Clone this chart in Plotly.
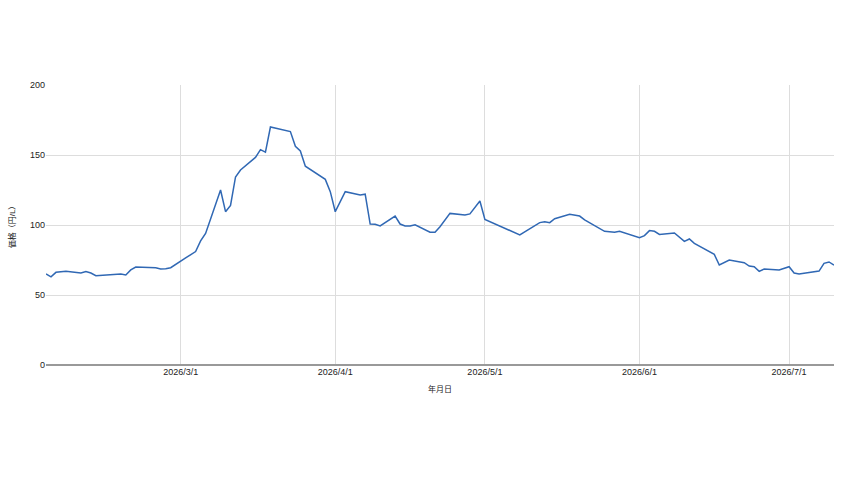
import plotly.graph_objects as go

dates = [
    "2026-02-02", "2026-02-03", "2026-02-04", "2026-02-06", "2026-02-09", "2026-02-10",
    "2026-02-11", "2026-02-12", "2026-02-17", "2026-02-18", "2026-02-19", "2026-02-20",
    "2026-02-24", "2026-02-25", "2026-02-26", "2026-02-27", "2026-03-02", "2026-03-03",
    "2026-03-04", "2026-03-05", "2026-03-06", "2026-03-09", "2026-03-10", "2026-03-11",
    "2026-03-12", "2026-03-13", "2026-03-16", "2026-03-17", "2026-03-18", "2026-03-19",
    "2026-03-23", "2026-03-24", "2026-03-25", "2026-03-26", "2026-03-30", "2026-03-31",
    "2026-04-01", "2026-04-03", "2026-04-06", "2026-04-07", "2026-04-08", "2026-04-09",
    "2026-04-10", "2026-04-13", "2026-04-14", "2026-04-15", "2026-04-16", "2026-04-17",
    "2026-04-20", "2026-04-21", "2026-04-22", "2026-04-24", "2026-04-27", "2026-04-28",
    "2026-04-30", "2026-05-01", "2026-05-08", "2026-05-12", "2026-05-13", "2026-05-14",
    "2026-05-15", "2026-05-18", "2026-05-20", "2026-05-21", "2026-05-22", "2026-05-25",
    "2026-05-27", "2026-05-28", "2026-06-01", "2026-06-02", "2026-06-03", "2026-06-04",
    "2026-06-05", "2026-06-08", "2026-06-10", "2026-06-11", "2026-06-12", "2026-06-16",
    "2026-06-17", "2026-06-19", "2026-06-22", "2026-06-23", "2026-06-24", "2026-06-25",
    "2026-06-26", "2026-06-29", "2026-07-01", "2026-07-02", "2026-07-03", "2026-07-07",
    "2026-07-08", "2026-07-09", "2026-07-10",
]
prices = [
    65.0, 63.0, 66.2, 67.0, 65.7, 66.7,
    65.7, 63.8, 65.0, 64.3, 67.9, 70.0,
    69.5, 68.6, 68.8, 69.5, 76.5, 78.5,
    81.0, 88.6, 94.0, 125.0, 109.5, 114.0,
    134.3, 139.3, 148.3, 153.8, 152.0, 170.0,
    166.7, 156.2, 152.9, 142.0, 132.6, 123.8,
    109.5, 123.8, 121.4, 122.0, 100.7, 100.5,
    99.3, 106.4, 100.7, 99.3, 99.3, 100.2,
    94.8, 94.8, 98.8, 108.3, 107.1, 107.9,
    117.1, 104.0, 92.9, 101.7, 102.4, 101.7,
    104.5, 107.6, 106.4, 103.6, 101.7, 95.5,
    94.8, 95.5, 91.0, 92.4, 96.0, 95.5,
    93.3, 94.3, 88.3, 90.0, 86.9, 79.0,
    71.4, 75.0, 73.1, 70.7, 70.2, 66.9,
    68.6, 67.9, 70.2, 65.7, 65.0, 67.1,
    72.6, 73.6, 71.4,
]
x_ticks = ["2026-03-01", "2026-04-01", "2026-05-01", "2026-06-01", "2026-07-01"]
x_tick_labels = ["2026/3/1", "2026/4/1", "2026/5/1", "2026/6/1", "2026/7/1"]
y_ticks = [0, 50, 100, 150, 200]

fig = go.Figure()
fig.add_trace(go.Scatter(
    x=dates, y=prices, mode="lines",
    line=dict(color="#3068b4", width=1.5),
    hoverinfo="x+y", showlegend=False,
))

font_family = "Liberation Sans, Arial, Noto Sans CJK JP, sans-serif"
fig.update_layout(
    width=851, height=481,
    margin=dict(l=46, r=17, t=85, b=116),
    paper_bgcolor="white", plot_bgcolor="white",
    font=dict(family=font_family, size=9, color="#222222"),
    xaxis=dict(
        range=[dates[0], dates[-1]],
        tickvals=x_ticks, ticktext=x_tick_labels,
        showgrid=True, gridcolor="#dddddd", gridwidth=1,
        zeroline=False, showline=False, ticks="",
        tickfont=dict(size=9, color="#222222"),
        title=dict(text="年月日", font=dict(size=8, color="#222222"), standoff=10),
    ),
    yaxis=dict(
        range=[0, 200], tickvals=y_ticks,
        showgrid=True, gridcolor="#dddddd", gridwidth=1,
        zeroline=True, zerolinecolor="#999999", zerolinewidth=2,
        showline=False, ticks="",
        tickfont=dict(size=9, color="#222222"),
        title=dict(text="価格（円/L）", font=dict(size=8, color="#222222"), standoff=13),
    ),
)

fig.write_html("out.html")
